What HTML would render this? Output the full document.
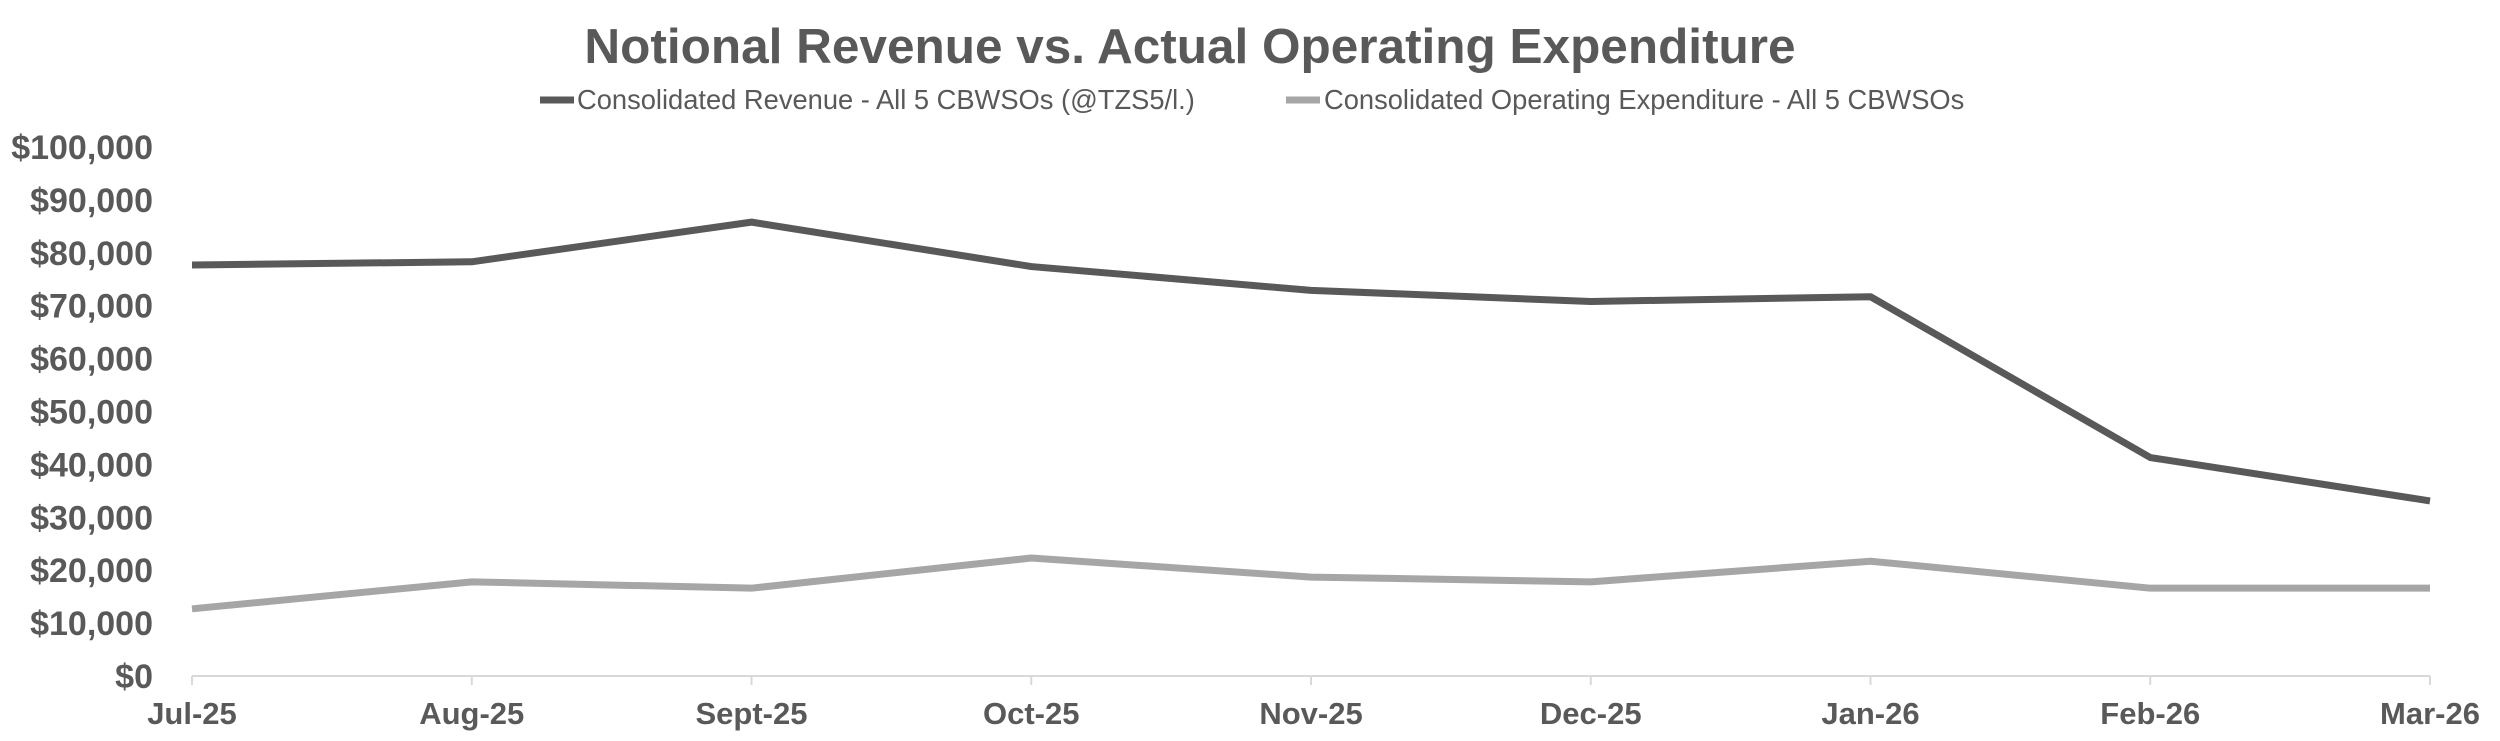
<!DOCTYPE html>
<html><head><meta charset="utf-8"><style>
html,body{margin:0;padding:0;background:#fff;width:2500px;height:741px;overflow:hidden}
svg text{font-family:"Liberation Sans",Arial,sans-serif;fill:#595959}
</style></head><body>
<svg id="chart" width="2500" height="741" xmlns="http://www.w3.org/2000/svg">
<text x="1190" y="63" text-anchor="middle" font-size="49.5" font-weight="bold">Notional Revenue vs. Actual Operating Expenditure</text>
<g>
<g><line x1="540" y1="100" x2="574" y2="100" stroke="#595959" stroke-width="7"/><text x="577" y="109" font-size="27.3">Consolidated Revenue - All 5 CBWSOs (@TZS5/l.)</text></g>
<g><line x1="1286" y1="100" x2="1320" y2="100" stroke="#a6a6a6" stroke-width="7"/><text x="1324" y="109" font-size="27.3">Consolidated Operating Expenditure - All 5 CBWSOs</text></g>
</g>
<g id="yaxis"></g>
<g id="xaxis"></g>
<g id="series"></g>
</svg>
<script>
const categories=["Jul-25","Aug-25","Sept-25","Oct-25","Nov-25","Dec-25","Jan-26","Feb-26","Mar-26"];
const revenue=[77700,78300,85800,77400,72900,70800,71700,41300,33100];
const expenditure=[12700,17800,16600,22300,18700,17800,21700,16600,16600];
const yTicks=[0,10000,20000,30000,40000,50000,60000,70000,80000,90000,100000];
const yTickLabels=["$0","$10,000","$20,000","$30,000","$40,000","$50,000","$60,000","$70,000","$80,000","$90,000","$100,000"];
const NS="http://www.w3.org/2000/svg";
const x0=192,x1=2430,y0=676,yTop=147,yMax=100000;
function xs(i){return x0+(x1-x0)*i/(categories.length-1);}
function ys(v){return y0-(y0-yTop)*v/yMax;}
function mk(t,a){const e=document.createElementNS(NS,t);for(const k in a)e.setAttribute(k,a[k]);return e;}
const ya=document.getElementById('yaxis');
yTicks.forEach((v,i)=>{const t=mk('text',{x:153,y:ys(v)+12,'text-anchor':'end','font-size':34,'font-weight':'bold'});t.textContent=yTickLabels[i];


ya.appendChild(t);});
const xa=document.getElementById('xaxis');
const base=mk('line',{x1:x0,y1:y0,x2:x1,y2:y0,stroke:'#d9d9d9','stroke-width':2});


xa.appendChild(base);
categories.forEach((c,i)=>{const tk=mk('line',{x1:xs(i),y1:y0,x2:xs(i),y2:y0+9,stroke:'#d9d9d9','stroke-width':2});


xa.appendChild(tk);
const t=mk('text',{x:xs(i),y:724,'text-anchor':'middle','font-size':31,'font-weight':'bold'});t.textContent=c;


xa.appendChild(t);});
const sg=document.getElementById('series');
function line(vals,col,name){const p=mk('polyline',{points:vals.map((v,i)=>xs(i)+','+ys(v)).join(' '),fill:'none',stroke:col,'stroke-width':7,'stroke-linejoin':'round'});


sg.appendChild(p);}
line(expenditure,'#a6a6a6','expenditure-line');
line(revenue,'#595959','revenue-line');
</script>
</body></html>
